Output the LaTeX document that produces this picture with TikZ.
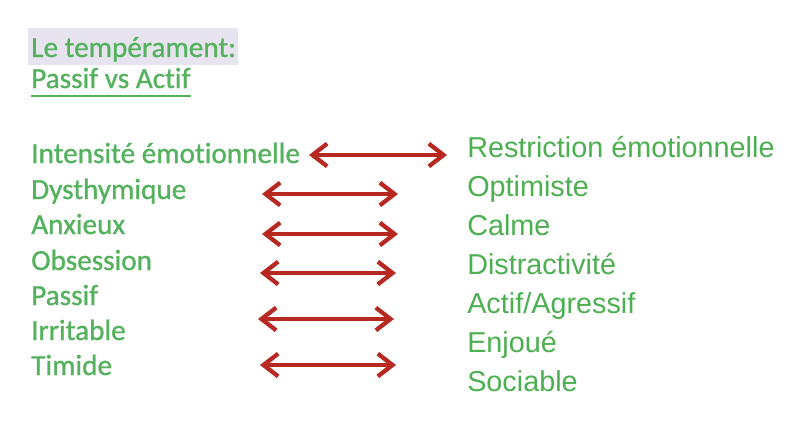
\documentclass[tikz,border=0pt]{standalone}
\usepackage{fontspec}
\usetikzlibrary{arrows.meta}
\newfontfamily\calib[Ligatures=NoCommon,FakeBold=0.9]{Carlito}
\newfontfamily\arialf{Liberation Sans}
\definecolor{lgreen}{RGB}{84,178,94}
\definecolor{rgreen}{RGB}{76,175,80}
\definecolor{arrred}{RGB}{183,40,33}
\definecolor{hilite}{RGB}{231,228,240}
\tikzset{
  lefttxt/.style={anchor=base west,inner sep=0pt,text=lgreen,font=\calib\fontsize{21.9}{26}\selectfont},
  righttxt/.style={anchor=base west,inner sep=0pt,text=rgreen,font=\arialf\fontsize{21.6}{26}\selectfont},
  dblarrow/.style={draw=arrred,line width=3.2pt,{Straight Barb[length=11pt,width=17pt]}-{Straight Barb[length=11pt,width=17pt]}}
}
\begin{document}
\begin{tikzpicture}[x=0.75pt,y=-0.75pt]
\useasboundingbox[fill=white] (0,0) rectangle (806,432);
% highlight behind title
\fill[hilite] (28,28) rectangle (238,65);
\node[lefttxt] (t1) at (31,57) {Le tempérament:};
\node[lefttxt] (t2) at (31,88) {Passif vs Actif};
\draw[lgreen,line width=1.4pt] ([yshift=-6pt]t2.base west) -- ([yshift=-6pt]t2.base east);
% left column
\node[lefttxt] (l1) at (31,163) {Intensité émotionnelle};
\node[lefttxt] (l2) at (31,199) {Dysthymique};
\node[lefttxt] (l3) at (31,234) {Anxieux};
\node[lefttxt] (l4) at (31,270) {Obsession};
\node[lefttxt] (l5) at (31,305) {Passif};
\node[lefttxt] (l6) at (31,340) {Irritable};
\node[lefttxt] (l7) at (31,375) {Timide};
% right column
\node[righttxt] (r1) at (467,157) {Restriction émotionnelle};
\node[righttxt] (r2) at (467,196) {Optimiste};
\node[righttxt] (r3) at (467,235) {Calme};
\node[righttxt] (r4) at (467,274) {Distractivité};
\node[righttxt] (r5) at (467,313) {Actif/Agressif};
\node[righttxt] (r6) at (467,352) {Enjoué};
\node[righttxt] (r7) at (467,391) {Sociable};
% arrows
\coordinate (a1l) at (309,155); \coordinate (a1r) at (447,155);
\coordinate (a2l) at (262,194); \coordinate (a2r) at (398,194);
\coordinate (a3l) at (262,234); \coordinate (a3r) at (398,234);
\coordinate (a4l) at (260,273); \coordinate (a4r) at (396,273);
\coordinate (a5l) at (258,319); \coordinate (a5r) at (394,319);
\coordinate (a6l) at (260,365); \coordinate (a6r) at (396,365);
\draw[dblarrow] (a1l) -- (a1r);
\draw[dblarrow] (a2l) -- (a2r);
\draw[dblarrow] (a3l) -- (a3r);
\draw[dblarrow] (a4l) -- (a4r);
\draw[dblarrow] (a5l) -- (a5r);
\draw[dblarrow] (a6l) -- (a6r);
\end{tikzpicture}
\end{document}
